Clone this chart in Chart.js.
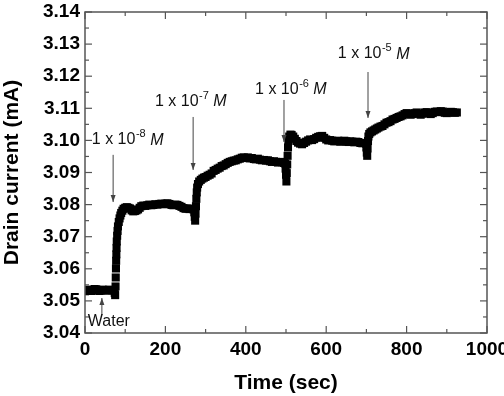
<!DOCTYPE html>
<html><head><meta charset="utf-8">
<script src="https://cdn.jsdelivr.net/npm/chart.js@4/dist/chart.umd.min.js"></script>
<style>html,body{margin:0;padding:0;background:#fff}</style>
</head><body><canvas id="c" width="504" height="396"></canvas>
<script>
// ---- data ----
const timeSec = [
0,4,8,12,16,20,24,28,32,36,40,44,48,52,56,60,64,68,72,74,75,
76,76.5,77,77.5,78,78.5,79,80,81,82,84,86,88,90,93,96,100,
104,108,112,116,120,124,128,132,136,140,145,150,155,160,165,170,175,180,185,190,195,200,205,210,215,220,225,230,235,240,245,250,255,260,265,270,
272,273,274,275,276,277,278,279,281,284,288,292,296,
300,305,310,315,320,325,330,335,340,345,350,355,360,365,370,375,380,385,390,395,400,405,410,415,420,425,430,435,440,445,450,455,460,465,470,475,480,485,490,495,498,
499,500,501,502,503,504,505,506,508,511,514,518,522,526,530,535,540,545,550,555,560,565,570,575,580,585,590,595,600,605,610,615,620,625,630,635,640,645,650,655,660,665,670,675,680,685,690,695,699,
700,701,702,703,704,705,707,710,714,718,722,726,730,735,740,745,750,755,760,765,770,775,780,785,790,795,800,805,810,815,820,825,830,835,840,845,850,855,860,865,870,875,880,885,890,895,900,905,910,915,920,925
];
const drainCurrent = [
3.0530,3.0533,3.0535,3.0532,3.0531,3.0534,3.0537,3.0536,3.0533,3.0531,3.0533,3.0535,3.0534,3.0532,3.0533,3.0535,3.0534,3.0533,3.0532,3.0525,3.0518,
3.0545,3.0573,3.0601,3.0625,3.0645,3.0665,3.0685,3.0703,3.0718,3.0732,3.0746,3.0757,3.0766,3.0774,3.0781,3.0787,3.0790,
3.0792,3.0790,3.0788,3.0782,3.0779,3.0780,3.0782,3.0785,3.0790,3.0795,3.0797,3.0796,3.0798,3.0800,3.0798,3.0799,3.0801,3.0800,3.0802,3.0803,3.0801,3.0803,3.0804,3.0802,3.0799,3.0798,3.0800,3.0799,3.0796,3.0793,3.0789,3.0787,3.0788,3.0786,3.0787,3.0785,
3.0776,3.0762,3.0750,3.0772,3.0795,3.0818,3.0838,3.0853,3.0864,3.0872,3.0877,3.0881,3.0884,
3.0886,3.0890,3.0893,3.0897,3.0905,3.0908,3.0912,3.0915,3.0920,3.0922,3.0926,3.0930,3.0933,3.0935,3.0937,3.0938,3.0941,3.0943,3.0946,3.0947,3.0945,3.0947,3.0944,3.0945,3.0942,3.0941,3.0943,3.0940,3.0938,3.0939,3.0937,3.0938,3.0935,3.0933,3.0935,3.0933,3.0931,3.0933,3.0932,3.0930,3.0928,
3.0912,3.0893,3.0872,3.0898,3.0925,3.0952,3.0978,3.1000,3.1012,3.1018,3.1017,3.1012,3.1005,3.0998,3.0993,3.0990,3.0988,3.0992,3.0996,3.1000,3.1003,3.1001,3.1004,3.1008,3.1011,3.1013,3.1014,3.1008,3.1003,3.1000,3.1001,3.0999,3.0997,3.0998,3.0999,3.0996,3.0997,3.0999,3.0997,3.0995,3.0997,3.0996,3.0994,3.0996,3.0995,3.0992,3.0991,3.0992,3.0990,
3.0978,3.0962,3.0952,3.0975,3.0998,3.1012,3.1020,3.1025,3.1028,3.1031,3.1034,3.1037,3.1040,3.1043,3.1045,3.1050,3.1055,3.1057,3.1060,3.1065,3.1067,3.1070,3.1073,3.1075,3.1078,3.1082,3.1085,3.1083,3.1080,3.1082,3.1085,3.1087,3.1083,3.1080,3.1083,3.1087,3.1088,3.1085,3.1082,3.1085,3.1089,3.1090,3.1088,3.1091,3.1090,3.1086,3.1085,3.1087,3.1089,3.1088,3.1086,3.1087
];
const xTicks = [0,200,400,600,800,1000];
const yTicks = [3.04,3.05,3.06,3.07,3.08,3.09,3.10,3.11,3.12,3.13,3.14];
const xTitle = 'Time (sec)';
const yTitle = 'Drain current (mA)';
// annotations: concentration labels with arrows (data coordinates)
const noteLabels = ['1 x 10','1 x 10','1 x 10','1 x 10'];
const noteExps = ['-8','-7','-6','-5'];
const noteUnit = 'M';
const noteTextT = [17, 174, 423, 629];
const noteTextV = [3.1001, 3.1120, 3.1157, 3.1269];
const noteArrowT = [70, 269, 495, 704];
const noteArrowFrom = [3.0955, 3.1073, 3.1126, 3.1213];
const noteArrowTo = [3.0808, 3.0908, 3.0995, 3.1070];
const waterLabel = 'Water';
const waterTextT = 7, waterTextV = 3.0434;
const waterArrowT = 42, waterArrowFrom = 3.0456, waterArrowTo = 3.0509;

const points = timeSec.map((t,i)=>({x:t, y:drainCurrent[i]}));
const FAM = '"Liberation Sans", Arial, Helvetica, sans-serif';

function arrow(ctx, x, y1, y2){
  ctx.beginPath(); ctx.moveTo(x, y1); ctx.lineTo(x, y2); ctx.stroke();
  const d = y2 > y1 ? 1 : -1;
  ctx.beginPath(); ctx.moveTo(x, y2); ctx.lineTo(x-2.5, y2 - d*7); ctx.lineTo(x+2.5, y2 - d*7); ctx.closePath(); ctx.fill();
}

const decor = {
  id: 'decor',
  afterDraw(chart){
    const {ctx, chartArea:a, scales:{x, y}} = chart;
    ctx.save();
    ctx.strokeStyle = '#555'; ctx.lineWidth = 1.5;
    ctx.strokeRect(a.left, a.top, a.right - a.left, a.bottom - a.top);
    ctx.lineWidth = 1.2;
    const seg = (x1,y1,x2,y2)=>{ctx.beginPath();ctx.moveTo(x1,y1);ctx.lineTo(x2,y2);ctx.stroke();};
    for (let i=0;i<xTicks.length;i++){
      const px = x.getPixelForValue(xTicks[i]);
      seg(px,a.bottom,px,a.bottom-7); seg(px,a.top,px,a.top+7);
      if (i<xTicks.length-1){
        const pm = x.getPixelForValue((xTicks[i]+xTicks[i+1])/2);
        seg(pm,a.bottom,pm,a.bottom-4); seg(pm,a.top,pm,a.top+4);
      }
    }
    for (let i=0;i<yTicks.length;i++){
      const py = y.getPixelForValue(yTicks[i]);
      seg(a.left,py,a.left+7,py); seg(a.right,py,a.right-7,py);
      if (i<yTicks.length-1){
        const pm = y.getPixelForValue((yTicks[i]+yTicks[i+1])/2);
        seg(a.left,pm,a.left+4,pm); seg(a.right,pm,a.right-4,pm);
      }
    }
    // annotations
    ctx.strokeStyle = '#444'; ctx.fillStyle = '#444'; ctx.lineWidth = 1;
    for (let i=0;i<noteLabels.length;i++){
      const ax = x.getPixelForValue(noteArrowT[i]);
      arrow(ctx, ax, y.getPixelForValue(noteArrowFrom[i]), y.getPixelForValue(noteArrowTo[i]));
    }
    arrow(ctx, x.getPixelForValue(waterArrowT), y.getPixelForValue(waterArrowFrom), y.getPixelForValue(waterArrowTo));
    ctx.fillStyle = '#111'; ctx.textBaseline = 'middle'; ctx.textAlign = 'left';
    for (let i=0;i<noteLabels.length;i++){
      let tx = x.getPixelForValue(noteTextT[i]);
      const ty = y.getPixelForValue(noteTextV[i]);
      ctx.font = '16px ' + FAM;
      ctx.fillText(noteLabels[i], tx, ty);
      tx += ctx.measureText(noteLabels[i]).width + 0.5;
      ctx.font = '11px ' + FAM;
      ctx.fillText(noteExps[i], tx, ty - 6);
      tx += ctx.measureText(noteExps[i]).width;
      ctx.font = '16px ' + FAM;
      tx += ctx.measureText(' ').width;
      ctx.font = 'italic 16px ' + FAM;
      ctx.fillText(noteUnit, tx, ty);
    }
    ctx.font = '16px ' + FAM;
    ctx.fillText(waterLabel, x.getPixelForValue(waterTextT), y.getPixelForValue(waterTextV));
    ctx.restore();
  }
};

const tickFont = {family: FAM, size: 19, weight: 'bold'};
const titleFont = {family: FAM, size: 21, weight: 'bold'};

new Chart(document.getElementById('c'), {
  type: 'scatter',
  data: { datasets: [{
    data: points,
    showLine: false,
    pointStyle: 'rect',
    pointRadius: 5.7,
    pointBorderWidth: 0,
    backgroundColor: '#000',
    borderColor: '#000'
  }]},
  options: {
    responsive: false, animation: false, devicePixelRatio: 1,
    layout: {padding: {top: 12, right: 17, left: 0, bottom: 0}},
    plugins: {legend: {display: false}, tooltip: {enabled: false}},
    scales: {
      x: {
        type: 'linear', min: 0, max: 1000,
        grid: {display: false, drawTicks: false}, border: {display: false},
        afterBuildTicks: s => { s.ticks = xTicks.map(v => ({value: v})); },
        ticks: {padding: 5, font: tickFont, color: '#000', maxRotation: 0, autoSkip: false, callback: v => String(v)},
        title: {display: true, text: xTitle, font: titleFont, color: '#000', padding: {top: 0, bottom: 0}},
        afterFit: s => { s.height = 63; s.paddingLeft = 0; s.paddingRight = 0; }
      },
      y: {
        type: 'linear', min: 3.04, max: 3.14,
        grid: {display: false, drawTicks: false}, border: {display: false},
        afterBuildTicks: s => { s.ticks = yTicks.map(v => ({value: v})); },
        ticks: {padding: 5, font: tickFont, color: '#000', callback: v => Number(v).toFixed(2), autoSkip: false},
        title: {display: true, text: yTitle, font: titleFont, color: '#000', padding: {top: 0, bottom: 0}},
        afterFit: s => { s.width = 85; s.paddingTop = 0; s.paddingBottom = 0; }
      }
    }
  },
  plugins: [decor]
});
</script>
</body></html>
